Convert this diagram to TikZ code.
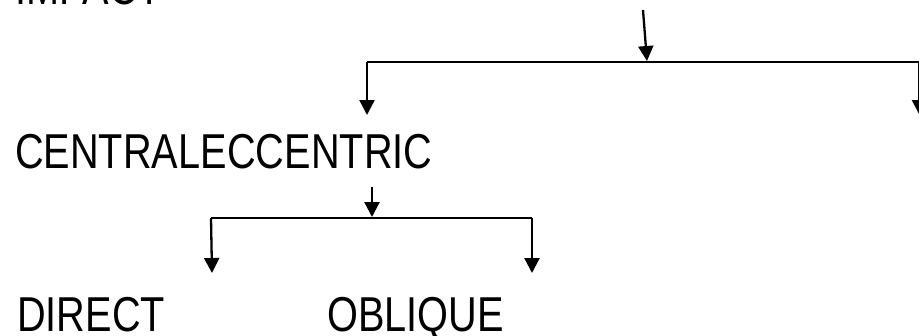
\documentclass[tikz,border=0pt]{standalone}
\usepackage{fontspec}
\setmainfont{Liberation Sans}[FakeStretch=0.81]
\usetikzlibrary{arrows.meta}
\begin{document}
\begin{tikzpicture}[x=1pt,y=-1pt,
  label/.style={anchor=base west,inner sep=0pt,font=\fontsize{49}{58}\selectfont},
  wire/.style={line width=2.3pt},
  feed/.style={line width=2.3pt,-{Triangle[length=15pt,width=15pt]}}]
\useasboundingbox (0,0) rectangle (919,335);
\clip (0,0) rectangle (919,335);

% labels
\node[label] (impact) at (15,4.5) {IMPACT};
\node[label] (central) at (15,168) {CENTRAL};
\node[label,anchor=base west] (eccentric) at (central.base east) {ECCENTRIC};
\node[label] (direct) at (17,331) {DIRECT};
\node[label] (oblique) at (327,331) {OBLIQUE};

% first split
\coordinate (t0) at (643,10);
\coordinate (t1) at (647,61);
\coordinate (bl) at (367,62);
\coordinate (br) at (919.5,62);
\coordinate (blT) at (367,115);
\coordinate (brT) at (919.5,115);
\draw[feed] (t0) -- (t1);
\draw[wire] (bl) -- (br);
\draw[feed] (bl) -- (blT);
\draw[feed] (br) -- (brT);

% second split
\coordinate (c0) at (372,187);
\coordinate (c1) at (372,217);
\coordinate (dl) at (211,218);
\coordinate (dr) at (532,218);
\coordinate (dlT) at (212,273);
\coordinate (drT) at (532,273);
\draw[feed] (c0) -- (c1);
\draw[wire] (dl) -- (dr);
\draw[feed] (dl) -- (dlT);
\draw[feed] (dr) -- (drT);
\end{tikzpicture}
\end{document}
